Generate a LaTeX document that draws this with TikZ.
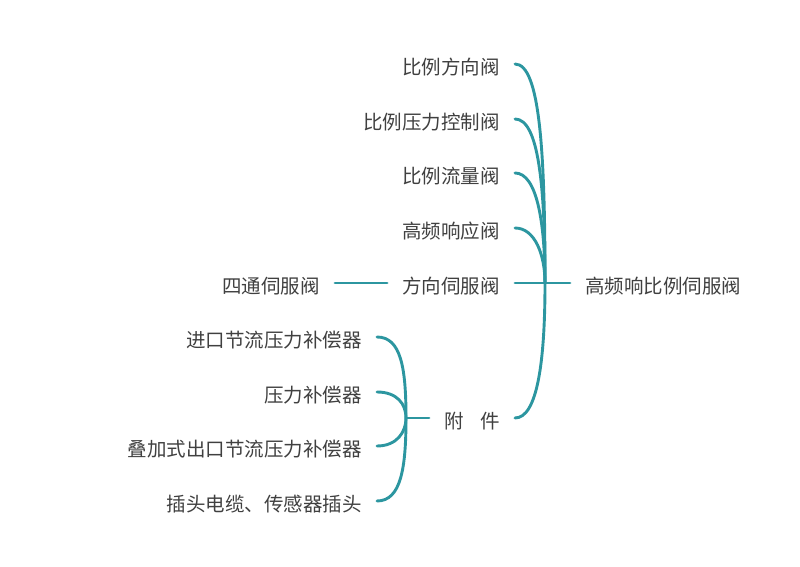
\documentclass[tikz,border=0pt]{standalone}
\usepackage{fontspec}
\setmainfont{Noto Sans CJK SC}
\definecolor{lineteal}{RGB}{44,150,160}
\definecolor{textgray}{RGB}{64,64,64}
\tikzset{
	leaf/.style={anchor=east, inner xsep=15pt, inner ysep=0pt, text height=23pt, text depth=2.3pt, text=textgray, font=\fontsize{19.5}{23}\selectfont},
	rootnode/.style={anchor=west, inner xsep=15pt, inner ysep=0pt, text height=23pt, text depth=2.3pt, text=textgray, font=\fontsize{19.5}{23}\selectfont},
	branch/.style={draw=lineteal, line width=2.9pt, line cap=round}
}
\begin{document}
\begin{tikzpicture}[x=1pt,y=1pt]
	\useasboundingbox (0,0) rectangle (800,567);
	
	\node (root) at (570,284) [rootnode] {高频响比例伺服阀};
	\coordinate (br) at (545,284);
	
	\node (v1) at (515,503) [leaf] {比例方向阀};
	\node (v2) at (515,448) [leaf] {比例压力控制阀};
	\node (v3) at (515,394) [leaf] {比例流量阀};
	\node (v4) at (515,339) [leaf] {高频响应阀};
	\node (v5) at (515,284) [leaf] {方向伺服阀};
	\node (v6) at (515,149) [leaf] {附\hspace{0.85em}件};
	
	\node (w1) at (335,284) [leaf] {四通伺服阀};
	
	\coordinate (bf) at (406,149);
	\node (u1) at (377,230) [leaf] {进口节流压力补偿器};
	\node (u2) at (377,175) [leaf] {压力补偿器};
	\node (u3) at (377,121) [leaf] {叠加式出口节流压力补偿器};
	\node (u4) at (377,66) [leaf] {插头电缆、传感器插头};
	
	\draw[branch] (br) -- (root.west);
	\draw[branch] (v1.east) .. controls +(25,0) and +(0,130) .. (br);
	\draw[branch] (v2.east) .. controls +(24,0) and +(0,95) .. (br);
	\draw[branch] (v3.east) .. controls +(22,0) and +(0,60) .. (br);
	\draw[branch] (v4.east) .. controls +(20,0) and +(0,28) .. (br);
	\draw[branch] (v5.east) -- (br);
	\draw[branch] (v6.east) .. controls +(22,0) and +(0,-80) .. (br);
	
	\draw[branch] (w1.east) -- (v5.west);
	
	\draw[branch] (v6.west) -- (bf);
	\draw[branch] (u1.east) .. controls +(24,0) and +(0,50) .. (bf);
	\draw[branch] (u2.east) .. controls +(20,0) and +(0,14) .. (bf);
	\draw[branch] (u3.east) .. controls +(20,0) and +(0,-14) .. (bf);
	\draw[branch] (u4.east) .. controls +(24,0) and +(0,-50) .. (bf);
	
\end{tikzpicture}
\end{document}
